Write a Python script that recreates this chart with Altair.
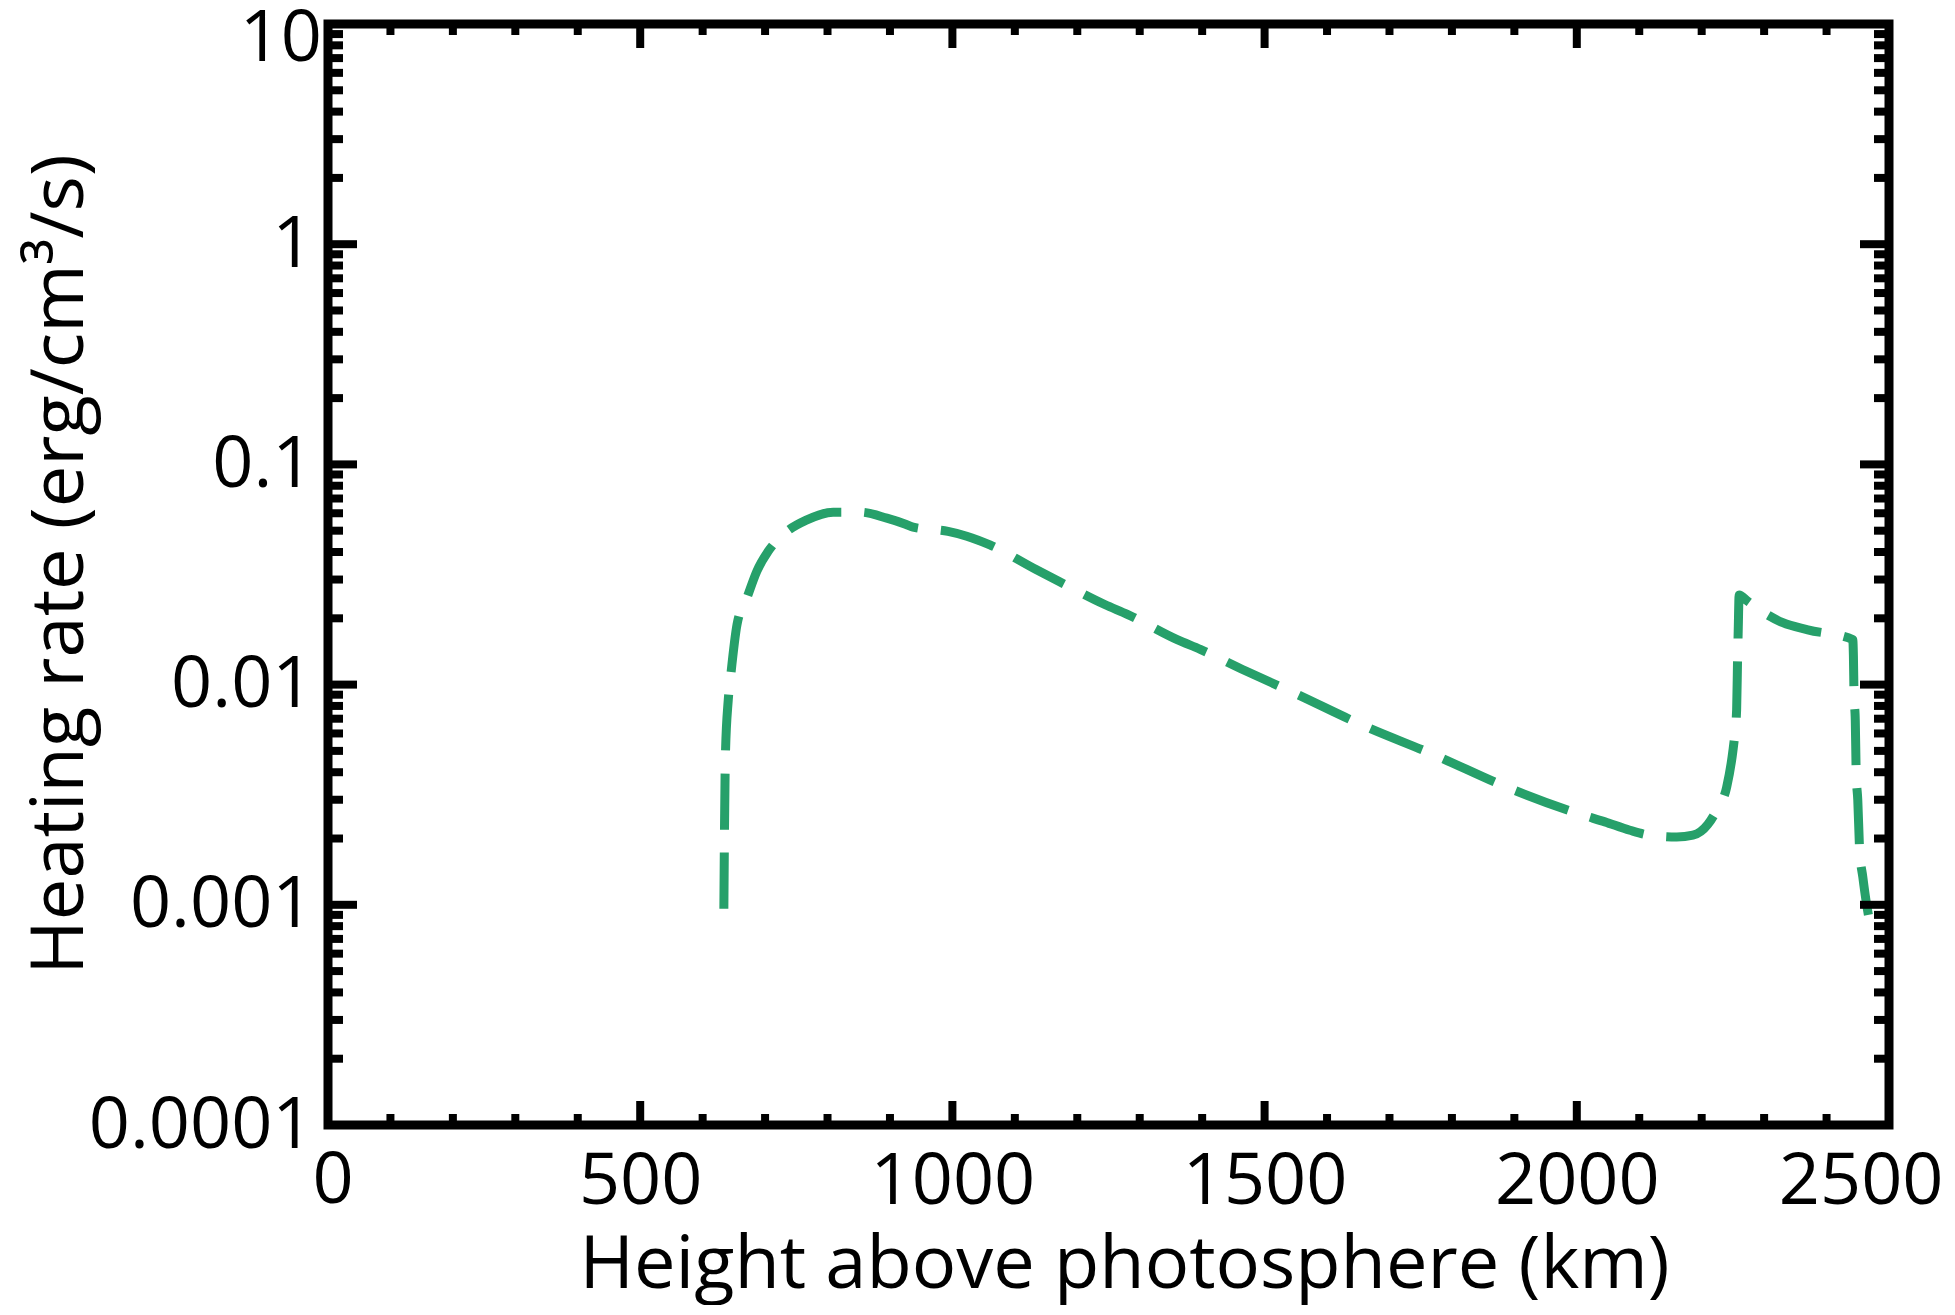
import altair as alt
import pandas as pd

# Curve values
height_km = [634, 635, 636.5, 641, 645, 655, 671, 687, 705, 732, 766, 809, 852, 895, 925, 937,
             993, 1023, 1060, 1134, 1171, 1244, 1281, 1360, 1397, 1470, 1546, 1658, 1773, 1888,
             2005, 2045, 2085, 2117, 2160, 2186, 2210, 2224, 2240, 2250, 2253, 2256, 2257.5,
             2258.5, 2260, 2273, 2300, 2330, 2370, 2442, 2443, 2444, 2446, 2447.5, 2450, 2453,
             2458, 2464, 2467]
heating_rate = [0.00096, 0.0022, 0.0048, 0.0085, 0.011, 0.0187, 0.0248, 0.0328, 0.0403, 0.0488,
                0.0558, 0.0607, 0.0607, 0.057, 0.0535, 0.0519, 0.0496, 0.0472, 0.0431, 0.0333,
                0.0294, 0.0231, 0.0208, 0.0160, 0.01445, 0.01153, 0.0092, 0.00652, 0.00478,
                0.00342, 0.00258, 0.00238, 0.00218, 0.00207, 0.00203, 0.00207, 0.00232, 0.00269,
                0.00342, 0.0050, 0.00594, 0.0077, 0.0132, 0.0175, 0.0255, 0.024, 0.0212, 0.0191,
                0.01774, 0.016, 0.0135, 0.009, 0.00687, 0.00392, 0.00299, 0.00177, 0.00134,
                0.00101, 0.0009]

x_major = [0, 500, 1000, 1500, 2000, 2500]
x_minor = [v for v in range(100, 2500, 100) if v % 500 != 0]
y_major = [0.0001, 0.001, 0.01, 0.1, 1, 10]
y_minor = [k * 10.0 ** e for e in range(-4, 1) for k in range(2, 10)]

x_title = "Height above photosphere (km)"
y_title = "Heating rate (erg/cm³/s)"

W, H = 1561, 1101
FONT = "Open Sans"
FS = 74
LFS = 72
LINE_COLOR = "#26a06a"

xs = alt.Scale(domain=[0, 2500], nice=False, zero=False)
ys = alt.Scale(type="log", domain=[0.0001, 10], nice=False)

df_line = pd.DataFrame({"h": height_km, "q": heating_rate})

x_axis = alt.Axis(
    values=x_major[1:], format="d", ticks=False, domain=False, grid=False,
    labelFont=FONT, labelFontSize=LFS, labelColor="black", labelPadding=78, labelLimit=0,
    labelBaseline="alphabetic", labelFlush=True, labelFlushOffset=54, labelOverlap=False,
    title=x_title, titleFont=FONT, titleFontSize=FS, titleFontWeight="normal",
    titleColor="black", titleX=796, titleY=162, titleBaseline="alphabetic", titleAlign="center",
    titleLimit=0,
)
y_axis = alt.Axis(
    values=y_major[:-1], format="~g", ticks=False, domain=False, grid=False,
    labelFont=FONT, labelFontSize=LFS, labelColor="black", labelPadding=15, labelLimit=0,
    labelBaseline="middle", labelFlush=False, labelOverlap=False,
    title=y_title, titleFont=FONT, titleFontSize=FS, titleFontWeight="normal",
    titleColor="black", titleX=-246, titleY=540, titleBaseline="alphabetic", titleAlign="center",
    titleAngle=270, titleLimit=0,
)

X = alt.X("h:Q", scale=xs, axis=x_axis)
Y = alt.Y("q:Q", scale=ys, axis=y_axis)

line = alt.Chart(df_line).mark_line(
    color=LINE_COLOR, strokeWidth=9, strokeDash=[56, 23], strokeCap="butt", interpolate="monotone"
).encode(x=X, y=Y)

# first x label and last y label, placed by the scales
x0_label = alt.Chart(pd.DataFrame({"h": x_major[:1]})).mark_text(
    font=FONT, fontSize=LFS, color="black", baseline="alphabetic", align="center", dy=78, dx=5
).encode(x=X, y=alt.value(H), text=alt.Text("h:Q", format="d"))

y10_label = alt.Chart(pd.DataFrame({"q": y_major[-1:]})).mark_text(
    font=FONT, fontSize=LFS, color="black", baseline="middle", align="right", dy=15
).encode(y=Y, x=alt.value(-6), text=alt.Text("q:Q", format="~g"))


def xticks(vals, length, at_bottom):
    return alt.Chart(pd.DataFrame({"h": vals})).mark_tick(
        orient="vertical", size=length, thickness=8, color="black", opacity=1,
        yOffset=(-length / 2 if at_bottom else length / 2),
    ).encode(x=X, y=alt.value(H if at_bottom else 0))


def yticks(vals, length, at_left):
    return alt.Chart(pd.DataFrame({"q": vals})).mark_tick(
        orient="horizontal", size=length, thickness=8, color="black", opacity=1,
        xOffset=(length / 2 if at_left else -length / 2),
    ).encode(y=Y, x=alt.value(0 if at_left else W))


chart = alt.layer(
    line,
    xticks(x_major, 24, True), xticks(x_minor, 11, True),
    xticks(x_major, 24, False), xticks(x_minor, 11, False),
    yticks(y_major, 29, True), yticks(y_minor, 15, True),
    yticks(y_major, 29, False), yticks(y_minor, 15, False),
    x0_label, y10_label,
).properties(
    width=W, height=H,
    padding={"left": 320, "top": 16, "right": 55, "bottom": 180},
    autosize=alt.AutoSizeParams(type="none"),
    background="white",
).configure_view(stroke="black", strokeWidth=9)

chart.save("out.html", embed_options={"renderer": "svg", "actions": False})
